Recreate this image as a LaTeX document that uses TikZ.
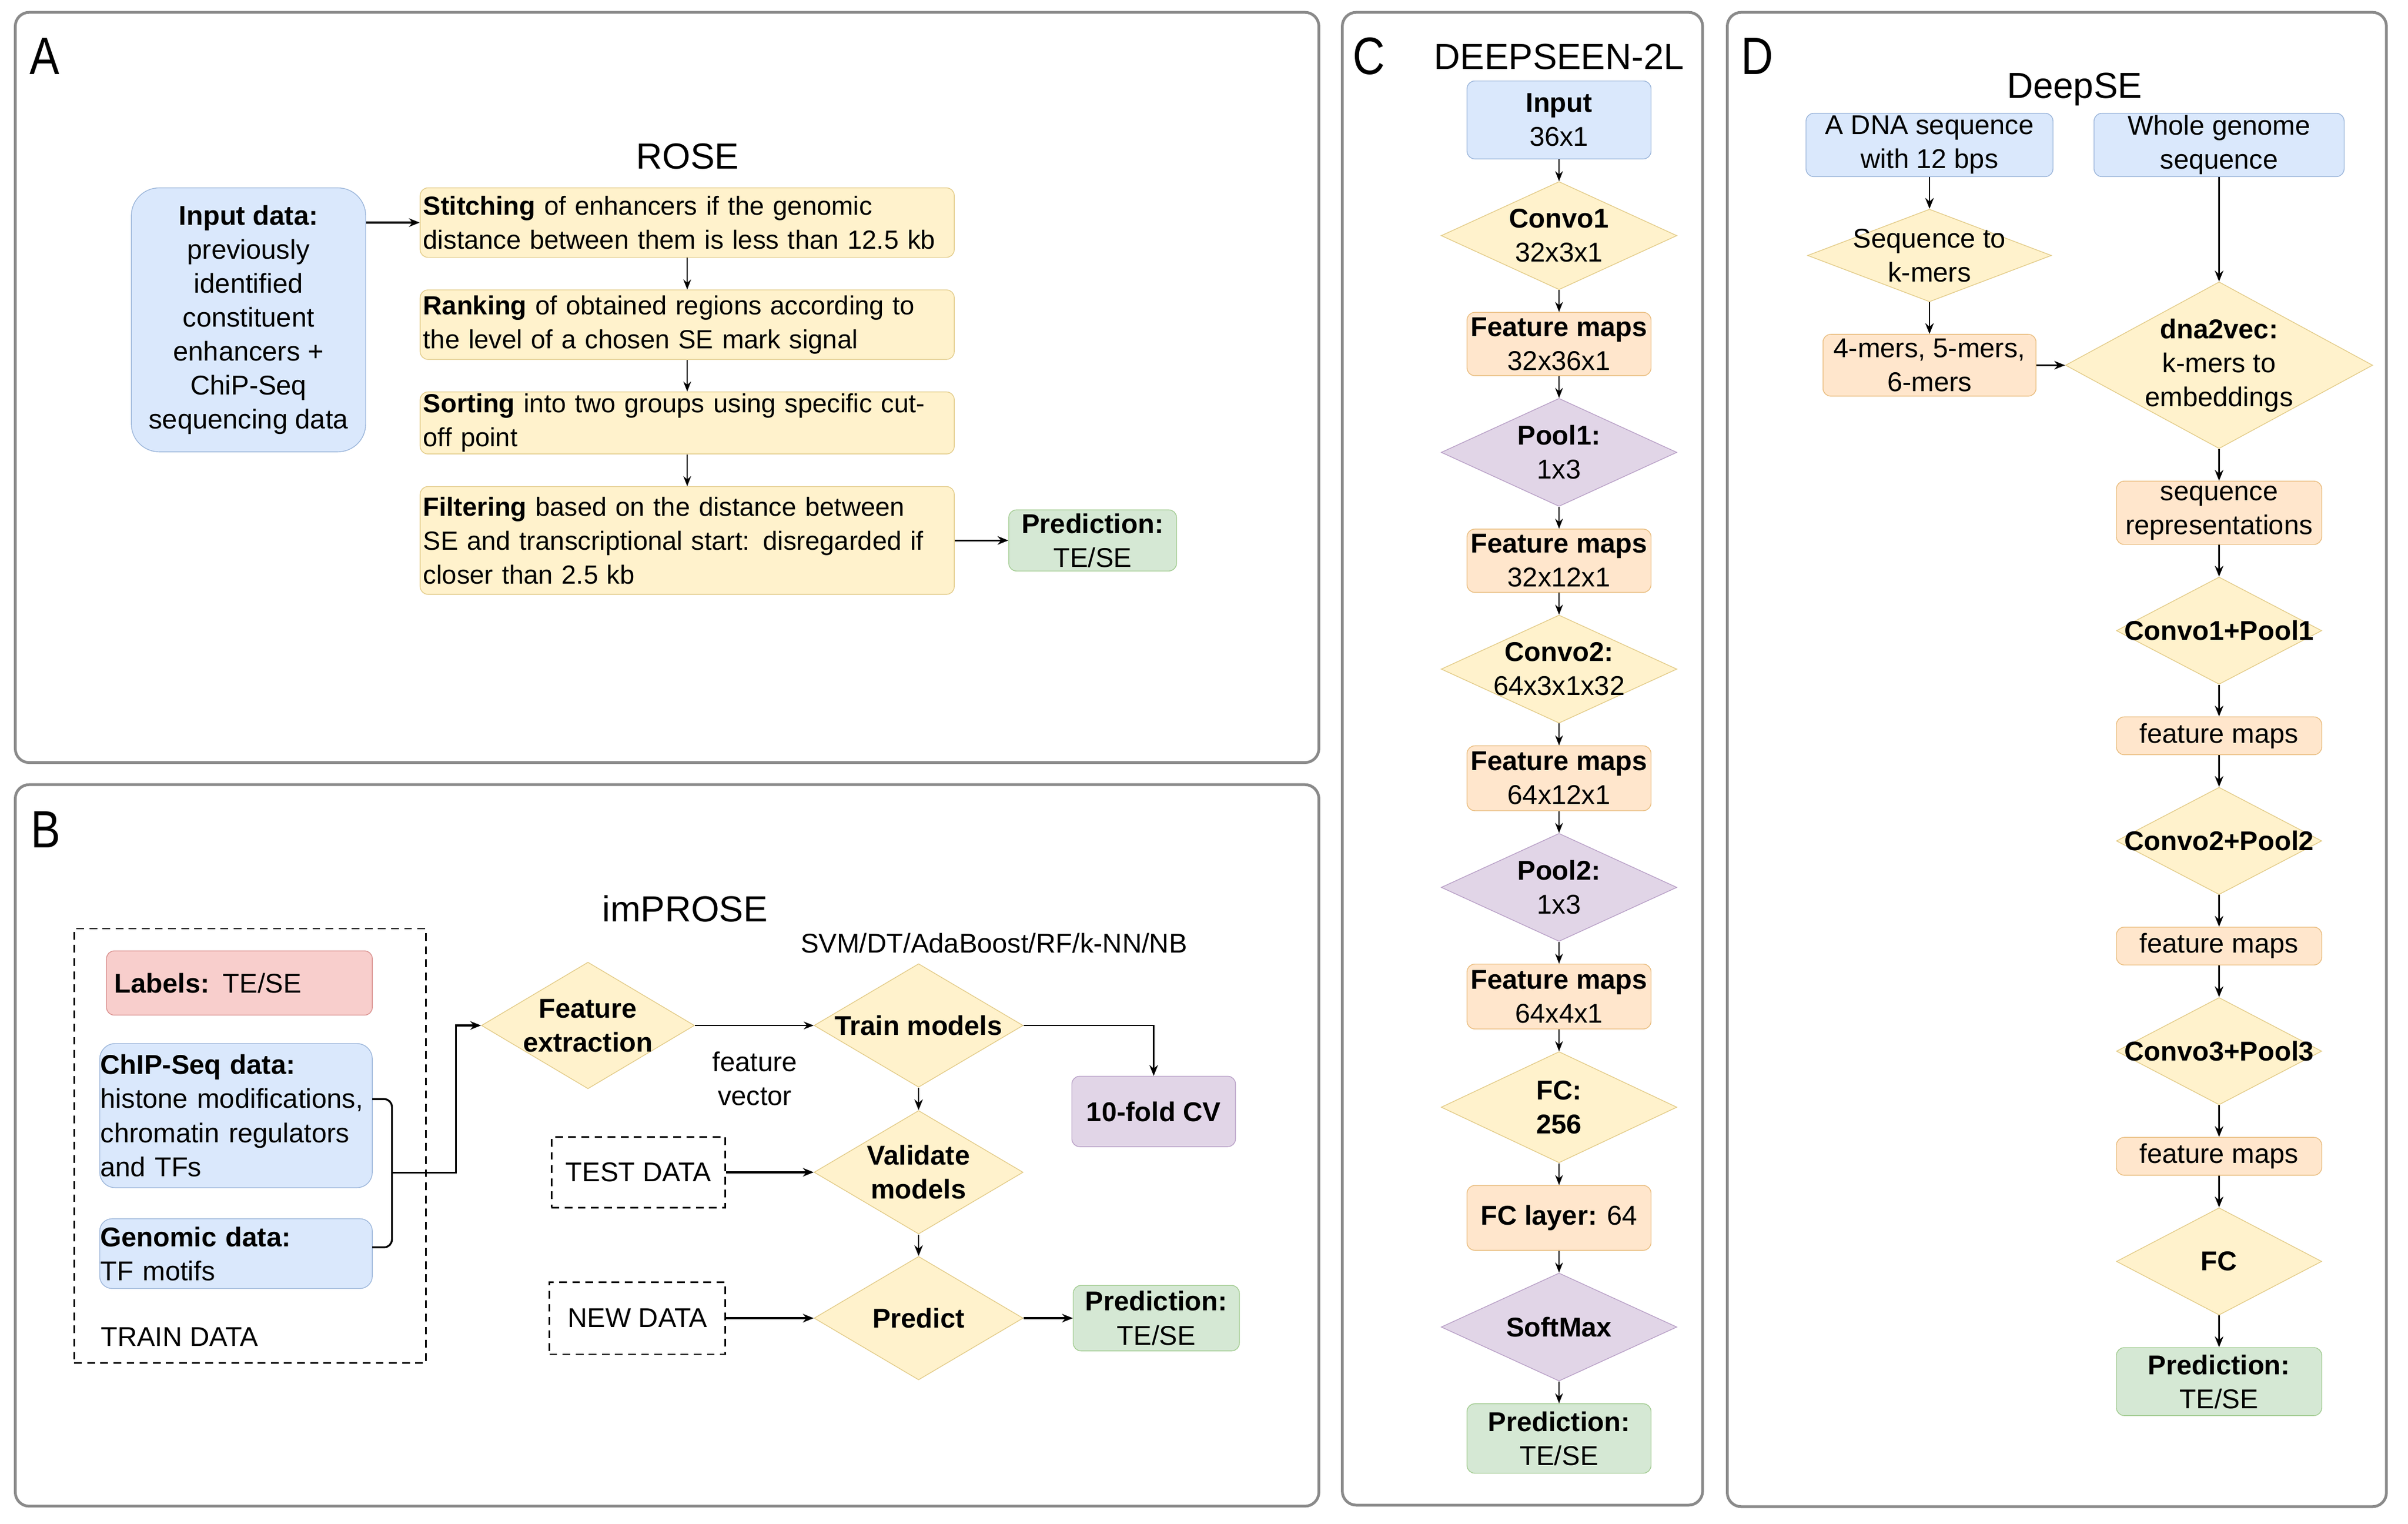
\documentclass[tikz,border=0pt]{standalone}
\usepackage{fontspec}
\setmainfont{Liberation Sans}
\usetikzlibrary{shapes.geometric,arrows.meta,positioning,calc}

\definecolor{panelgray}{HTML}{8A8A8A}
\definecolor{bluefill}{HTML}{DAE8FC}
\definecolor{blueline}{HTML}{9CB6DA}
\definecolor{yelfill}{HTML}{FFF2CC}
\definecolor{yelline}{HTML}{E3CC8A}
\definecolor{orgfill}{HTML}{FFE6CC}
\definecolor{orgline}{HTML}{E9BD7F}
\definecolor{purfill}{HTML}{E1D5E7}
\definecolor{purline}{HTML}{B9A1C7}
\definecolor{grnfill}{HTML}{D5E8D4}
\definecolor{grnline}{HTML}{A3CC92}
\definecolor{redfill}{HTML}{F8CECC}
\definecolor{redline}{HTML}{D9908E}

\tikzset{
    every node/.style={font=\fontsize{17.6}{22}\selectfont},
    panel/.style={draw=panelgray, line width=1.8pt, rounded corners=9pt},
    lettertext/.style={font=\fontsize{34}{34}\selectfont, inner sep=0pt, xscale=0.85, anchor=base},
    titletext/.style={font=\fontsize{23.5}{28}\selectfont, inner sep=0pt, anchor=base},
    blockbase/.style={rectangle, rounded corners=5pt, inner sep=0pt, line width=0.5pt, align=center},
    bluebox/.style={blockbase, draw=blueline, fill=bluefill},
    yelbox/.style={blockbase, draw=yelline, fill=yelfill},
    orgbox/.style={blockbase, draw=orgline, fill=orgfill},
    purbox/.style={blockbase, draw=purline, fill=purfill},
    grnbox/.style={blockbase, draw=grnline, fill=grnfill},
    redbox/.style={blockbase, draw=redline, fill=redfill},
    stepbox/.style={yelbox, minimum width=346pt, text width=342pt, inner xsep=2pt, align=left,
                    font=\fontsize{17}{22}\selectfont},
    dashbox/.style={draw=black, line width=1pt, dash pattern=on 5pt off 3.5pt, inner sep=0pt},
    ydia/.style={diamond, draw=yelline, fill=yelfill, inner sep=0pt, line width=0.5pt},
    pdia/.style={diamond, draw=purline, fill=purfill, inner sep=0pt, line width=0.5pt},
    cbox/.style={minimum width=119.2pt, minimum height=41pt},
    cdia/.style={minimum width=152.7pt, minimum height=70pt},
    dbox/.style={orgbox, minimum width=133pt, minimum height=24.5pt},
    ddia/.style={ydia, minimum width=133pt, minimum height=69.5pt},
    flowarrow/.style={-{Stealth[length=6.5pt,width=5pt]}, line width=0.7pt},
    midarrow/.style={-{Stealth[length=7pt,width=5.5pt]}, line width=1pt},
    boldarrow/.style={-{Stealth[length=7pt,width=5.5pt]}, line width=1.2pt},
    boldline/.style={line width=1.2pt},
}

\begin{document}
\begin{tikzpicture}[x=1pt, y=-1pt]
    \useasboundingbox (0,0) rectangle (1560,987);

    % panel A: ROSE
    \draw[panel] (9.9,8) rectangle (854.4,494);
    \node[lettertext] (letA) at (29,48.3) {A};
    \node[titletext] (titA) at (445.5,109.4) {ROSE};
    \node[stepbox, minimum height=45pt] (stitch) at (445.2,144.2)
        {\textbf{Stitching} of enhancers if the genomic\\distance between them is less than 12.5 kb};
    \node[stepbox, minimum height=45pt, below=20.6pt of stitch] (rank)
        {\textbf{Ranking} of obtained regions according to\\the level of a chosen SE mark signal};
    \node[stepbox, minimum height=40.2pt, below=20.6pt of rank] (sort)
        {\textbf{Sorting} into two groups using specific cut-\\off point};
    \node[stepbox, minimum height=69.8pt, below=20.6pt of sort] (filt)
        {\textbf{Filtering} based on the distance between\\SE and transcriptional start: disregarded if\\closer than 2.5 kb};
    \node[bluebox, rounded corners=18pt, minimum width=151.8pt, minimum height=171pt,
          left=34.8pt of stitch.north west, anchor=north east] (inA)
        {\textbf{Input data:}\\previously\\identified\\constituent\\enhancers +\\ChiP-Seq\\sequencing data};
    \node[grnbox, minimum width=108.7pt, minimum height=39.6pt, right=34.8pt of filt] (predA)
        {\textbf{Prediction:}\\TE/SE};

    \draw[boldarrow] (inA.east |- stitch.west) -- (stitch.west);
    \draw[flowarrow] (stitch) -- (rank);
    \draw[flowarrow] (rank) -- (sort);
    \draw[flowarrow] (sort) -- (filt);
    \draw[boldarrow] (filt) -- (predA);

    % panel B: imPROSE
    \draw[panel] (9.9,508.3) rectangle (854.4,975.7);
    \node[lettertext] (letB) at (29.8,549) {B};
    \node[titletext] (titB) at (443.8,597) {imPROSE};
    \node[dashbox, minimum width=228pt, minimum height=281.4pt] (trainbox) at (162,742.3) {};
    \node[anchor=west, inner sep=0pt] (traintext) at (65.1,866) {TRAIN DATA};
    \node[redbox, minimum width=172.2pt, minimum height=41.6pt, text width=162pt, inner xsep=5pt, align=left]
        (labels) at (155.1,636.8) {\textbf{Labels:} TE/SE};
    \node[bluebox, rounded corners=10pt, minimum width=176.6pt, minimum height=93.4pt, text width=175.6pt,
          inner xsep=0.5pt, align=left] (chip) at (152.9,722.7)
        {\textbf{ChIP-Seq data:}\\histone modifications,\\chromatin regulators\\and TFs};
    \node[bluebox, rounded corners=8pt, minimum width=176.6pt, minimum height=45.2pt, text width=175.6pt,
          inner xsep=0.5pt, align=left] (genomic) at (152.9,812.1)
        {\textbf{Genomic data:}\\TF motifs};

    \node[ydia, minimum width=138pt, minimum height=82pt,
          label={[align=center]center:{\textbf{Feature}\\\textbf{extraction}}}] (feat) at (380.9,664.3) {};
    \node[ydia, minimum width=135.4pt, minimum height=80pt, right=77pt of feat,
          label={[align=center]center:{\textbf{Train models}}}] (train) {};
    \node[ydia, minimum width=135.4pt, minimum height=80pt, below=14.6pt of train,
          label={[align=center]center:{\textbf{Validate}\\\textbf{models}}}] (valid) {};
    \node[ydia, minimum width=135.4pt, minimum height=80pt, below=14pt of valid,
          label={[align=center]center:{\textbf{Predict}}}] (predict) {};
    \node[dashbox, minimum width=112.6pt, minimum height=45.6pt, left=56.7pt of valid] (test) {TEST DATA};
    \node[dashbox, minimum width=114pt, minimum height=46.8pt, left=56.7pt of predict] (newdata) {NEW DATA};
    \node[purbox, minimum width=106pt, minimum height=45.6pt] (cv) at (747.4,720) {\textbf{10-fold CV}};
    \node[grnbox, minimum width=107.6pt, minimum height=42.4pt, right=32pt of predict] (predB)
        {\textbf{Prediction:}\\TE/SE};
    \node[align=center, inner sep=0pt] (fvec) at (489,698.6) {feature\\vector};
    \node[inner sep=0pt] (algos) at (643.9,611) {SVM/DT/AdaBoost/RF/k-NN/NB};

    \coordinate (brtop) at (241.2,712);
    \coordinate (brmid) at (253.9,759.6);
    \coordinate (brbot) at (241.2,808);
    \coordinate (brjog) at (295.3,664.3);
    \draw[boldline, rounded corners=5pt] (brtop) -| (brmid) |- (brbot);
    \draw[boldarrow] (brmid) -| (brjog) -- (feat.west);
    \draw[flowarrow] (feat) -- (train);
    \draw[midarrow] (train.east) -| (cv.north);
    \draw[midarrow] (train) -- (valid);
    \draw[midarrow] (valid) -- (predict);
    \draw[boldarrow] (test) -- (valid);
    \draw[boldarrow] (newdata) -- (predict);
    \draw[boldarrow] (predict) -- (predB);

    % panel C: DEEPSEEN-2L
    \draw[panel] (869.6,8) rectangle (1103,975);
    \node[lettertext] (letC) at (887,48) {C};
    \node[titletext] (titC) at (1010,45) {DEEPSEEN-2L};
    \node[bluebox, minimum width=119.2pt, minimum height=50.5pt] (inC) at (1010,77.7) {\textbf{Input}\\36x1};
    \node[ydia, cdia, below=14.2pt of inC,
          label={[align=center]center:{\textbf{Convo1}\\32x3x1}}] (conv1) {};
    \node[orgbox, cbox, below=14.2pt of conv1] (fm1) {\textbf{Feature maps}\\32x36x1};
    \node[pdia, cdia, below=14.2pt of fm1,
          label={[align=center]center:{\textbf{Pool1:}\\1x3}}] (pool1) {};
    \node[orgbox, cbox, below=14.2pt of pool1] (fm2) {\textbf{Feature maps}\\32x12x1};
    \node[ydia, cdia, below=14.2pt of fm2,
          label={[align=center]center:{\textbf{Convo2:}\\64x3x1x32}}] (conv2) {};
    \node[orgbox, cbox, minimum height=42pt, below=14.2pt of conv2] (fm3) {\textbf{Feature maps}\\64x12x1};
    \node[pdia, cdia, below=14.2pt of fm3,
          label={[align=center]center:{\textbf{Pool2:}\\1x3}}] (pool2) {};
    \node[orgbox, cbox, minimum height=42pt, below=14.2pt of pool2] (fm4) {\textbf{Feature maps}\\64x4x1};
    \node[ydia, cdia, minimum height=72pt, below=14.2pt of fm4,
          label={[align=center]center:{\textbf{FC:}\\\textbf{256}}}] (fc256) {};
    \node[orgbox, cbox, minimum height=42pt, below=14.2pt of fc256] (fc64) {\textbf{FC layer:} 64};
    \node[pdia, cdia, below=14.2pt of fc64,
          label={[align=center]center:{\textbf{SoftMax}}}] (softmax) {};
    \node[grnbox, cbox, minimum height=45pt, below=14.2pt of softmax] (predC) {\textbf{Prediction:}\\TE/SE};

    \draw[flowarrow] (inC) -- (conv1);
    \draw[flowarrow] (conv1) -- (fm1);
    \draw[flowarrow] (fm1) -- (pool1);
    \draw[flowarrow] (pool1) -- (fm2);
    \draw[flowarrow] (fm2) -- (conv2);
    \draw[flowarrow] (conv2) -- (fm3);
    \draw[flowarrow] (fm3) -- (pool2);
    \draw[flowarrow] (pool2) -- (fm4);
    \draw[flowarrow] (fm4) -- (fc256);
    \draw[flowarrow] (fc256) -- (fc64);
    \draw[flowarrow] (fc64) -- (softmax);
    \draw[flowarrow] (softmax) -- (predC);

    % panel D: DeepSE
    \draw[panel] (1119,8) rectangle (1546,976);
    \node[lettertext] (letD) at (1138.3,48) {D};
    \node[titletext] (titD) at (1344,63.5) {DeepSE};
    \node[bluebox, minimum width=160pt, minimum height=41pt] (dna) at (1250,93.9) {A DNA sequence\\with 12 bps};
    \node[bluebox, minimum width=162pt, minimum height=41pt] (whole) at (1437.6,93.9) {Whole genome\\sequence};
    \node[ydia, minimum width=158pt, minimum height=60pt, below=20.6pt of dna,
          label={[align=center]center:{Sequence to\\k-mers}}] (seqk) {};
    \node[orgbox, minimum width=138pt, minimum height=40pt, below=20.6pt of seqk] (kmers) {4-mers, 5-mers,\\6-mers};
    \node[ydia, minimum width=199pt, minimum height=108pt,
          label={[align=center]center:{\textbf{dna2vec:}\\k-mers to\\embeddings}}] (dna2vec) at (whole |- kmers) {};
    \node[orgbox, minimum width=133pt, minimum height=41pt, below=20.6pt of dna2vec] (seqrep) {sequence\\representations};
    \node[ddia, below=20.6pt of seqrep, label={center:{\textbf{Convo1+Pool1}}}] (cp1) {};
    \node[dbox, below=20.6pt of cp1] (dfm1) {feature maps};
    \node[ddia, below=20.6pt of dfm1, label={center:{\textbf{Convo2+Pool2}}}] (cp2) {};
    \node[dbox, below=20.6pt of cp2] (dfm2) {feature maps};
    \node[ddia, below=20.6pt of dfm2, label={center:{\textbf{Convo3+Pool3}}}] (cp3) {};
    \node[dbox, below=20.6pt of cp3] (dfm3) {feature maps};
    \node[ddia, below=20.6pt of dfm3, label={center:{\textbf{FC}}}] (fcD) {};
    \node[grnbox, minimum width=133pt, minimum height=44pt, below=20.6pt of fcD] (predD) {\textbf{Prediction:}\\TE/SE};

    \draw[midarrow] (dna) -- (seqk);
    \draw[midarrow] (seqk) -- (kmers);
    \draw[midarrow] (kmers) -- (dna2vec);
    \draw[midarrow] (whole) -- (dna2vec);
    \draw[midarrow] (dna2vec) -- (seqrep);
    \draw[midarrow] (seqrep) -- (cp1);
    \draw[midarrow] (cp1) -- (dfm1);
    \draw[midarrow] (dfm1) -- (cp2);
    \draw[midarrow] (cp2) -- (dfm2);
    \draw[midarrow] (dfm2) -- (cp3);
    \draw[midarrow] (cp3) -- (dfm3);
    \draw[midarrow] (dfm3) -- (fcD);
    \draw[midarrow] (fcD) -- (predD);
\end{tikzpicture}
\end{document}
